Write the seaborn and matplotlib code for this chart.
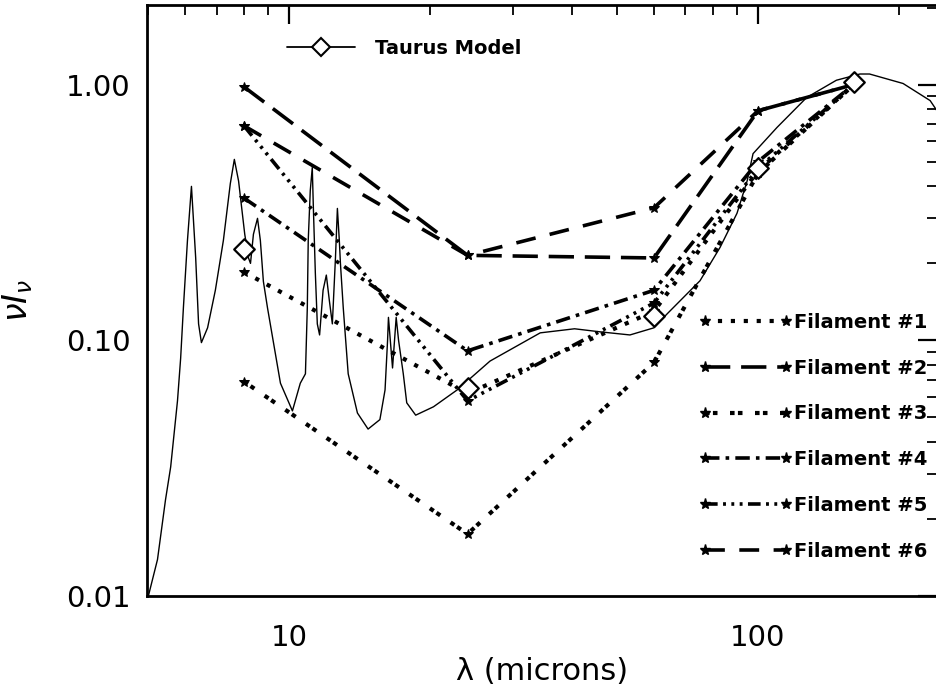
import numpy as np
import pandas as pd
import matplotlib
matplotlib.use("Agg")
import matplotlib.pyplot as plt
from matplotlib.lines import Line2D
from matplotlib.ticker import FixedLocator, FixedFormatter, LogLocator, NullFormatter
import seaborn as sns

# ---------------- data ----------------
wavelengths = [8, 24, 60, 100, 160]

filament_1 = [0.185, 0.062, 0.13, 0.46, 1.0]
filament_2 = [0.98, 0.215, 0.21, 0.79, 1.0]
filament_3 = [0.069, 0.0175, 0.082, 0.45, 1.0]
filament_4 = [0.36, 0.091, 0.157, 0.50, 1.0]
filament_5 = [0.69, 0.058, 0.14, 0.47, 1.0]
filament_6 = [0.69, 0.215, 0.33, 0.79, 1.0]

model_points = [0.228, 0.065, 0.125, 0.47, 1.02]

model_lambda = [5.0, 5.23, 5.44, 5.58, 5.77, 5.86, 5.94, 6.06, 6.18, 6.31, 6.40, 6.49,
                6.69, 6.95, 7.23, 7.48, 7.63, 7.79, 8.03, 8.18, 8.26, 8.38, 8.55,
                8.67, 8.80, 8.98, 9.57, 10.15, 10.55, 10.82, 10.92, 10.97, 11.08,
                11.19, 11.25, 11.36, 11.47, 11.6, 11.8, 11.99, 12.17, 12.35, 12.54,
                12.66, 12.78, 12.85, 13.03, 13.35, 13.97, 14.72, 15.6, 16.0, 16.2,
                16.27, 16.6, 16.9, 17.1, 17.5, 17.8, 18.6, 20.3, 22.8, 26.8, 34.3,
                40.6, 46.0, 53.3, 60.0, 64.0, 75.2, 83.0, 90.2, 94.8, 97.6, 109.8,
                127.0, 147.0, 165.0, 173.0, 204.0, 233.0, 241.0]
model_flux = [0.0100, 0.0139, 0.0238, 0.032, 0.058, 0.085, 0.134, 0.246, 0.40, 0.21,
              0.116, 0.098, 0.112, 0.157, 0.246, 0.41, 0.51, 0.42, 0.26, 0.21, 0.20,
              0.26, 0.30, 0.246, 0.17, 0.134, 0.068, 0.053, 0.068, 0.074, 0.134,
              0.246, 0.385, 0.474, 0.33, 0.183, 0.116, 0.105, 0.157, 0.18, 0.143,
              0.116, 0.21, 0.328, 0.246, 0.20, 0.134, 0.074, 0.052, 0.045, 0.049,
              0.064, 0.10, 0.123, 0.078, 0.123, 0.10, 0.074, 0.057, 0.051, 0.055,
              0.064, 0.083, 0.107, 0.111, 0.108, 0.105, 0.112, 0.127, 0.171, 0.231,
              0.314, 0.42, 0.537, 0.68, 0.89, 1.04, 1.10, 1.10, 1.01, 0.866, 0.79]

series_names = ["Filament #1", "Filament #2", "Filament #3",
                "Filament #4", "Filament #5", "Filament #6"]
series_values = [filament_1, filament_2, filament_3, filament_4, filament_5, filament_6]

# ---------------- style ----------------
sns.set_style("white")
plt.rcParams["font.family"] = ["DejaVu Sans"]
plt.rcParams["mathtext.fontset"] = "dejavusans"
plt.rcParams["text.color"] = "black"
plt.rcParams["axes.labelcolor"] = "black"
plt.rcParams["xtick.color"] = "black"
plt.rcParams["ytick.color"] = "black"

fig = plt.figure(figsize=(9.37, 6.94), dpi=100)
ax = fig.add_axes([0.157, 0.141, 0.843, 0.852])

line_styles = [
    (0, (1.0, 2.1)),                                  # 1 dotted
    (0, (7.0, 3.0)),                                  # 2 long dash
    (0, (1.1, 0.8, 1.1, 3.0)),                        # 3 paired dots
    (0, (4.0, 1.7, 1.0, 1.7)),                        # 4 dash dot
    (0, (3.5, 1.5, 0.8, 1.5, 0.8, 1.5, 0.8, 1.5)),    # 5 dash dot dot dot
    (0, (5.5, 4.0)),                                  # 6 dash
]
line_widths = [3.0, 2.6, 3.0, 2.6, 2.6, 2.6]

handles = []
for name, vals, ls, lw in zip(series_names, series_values, line_styles, line_widths):
    df = pd.DataFrame({"lam": wavelengths, "flux": vals})
    sns.lineplot(data=df, x="lam", y="flux", ax=ax, color="black",
                 linewidth=lw, linestyle=ls, marker="*", markersize=7,
                 markeredgecolor="black", markerfacecolor="black", legend=False)
    handles.append(Line2D([], [], color="black", linewidth=lw, linestyle=ls,
                          marker="*", markersize=8, label=name))

dfm = pd.DataFrame({"lam": model_lambda, "flux": model_flux})
sns.lineplot(data=dfm, x="lam", y="flux", ax=ax, color="black", linewidth=1.0,
             legend=False, sort=False)
dfp = pd.DataFrame({"lam": wavelengths, "flux": model_points})
sns.scatterplot(data=dfp, x="lam", y="flux", ax=ax, marker="D", s=110,
                facecolor="white", edgecolor="black", linewidth=1.6, zorder=5,
                legend=False)

ax.set_xscale("log")
ax.set_yscale("log")
ax.set_xlim(4.97, 241)
ax.set_ylim(0.01, 2.05)

ax.xaxis.set_major_locator(FixedLocator([10, 100]))
ax.xaxis.set_major_formatter(FixedFormatter(["10", "100"]))
ax.xaxis.set_minor_locator(LogLocator(base=10, subs=np.arange(2, 10)))
ax.xaxis.set_minor_formatter(NullFormatter())
ax.yaxis.set_major_locator(FixedLocator([0.01, 0.1, 1.0]))
ax.yaxis.set_major_formatter(FixedFormatter(["0.01", "0.10", "1.00"]))
ax.yaxis.set_minor_locator(LogLocator(base=10, subs=np.arange(2, 10)))
ax.yaxis.set_minor_formatter(NullFormatter())

ax.tick_params(which="both", direction="in", top=True, right=True, color="black",
               labelcolor="black")
ax.tick_params(which="major", length=14, width=1.6, labelsize=21)
ax.tick_params(axis="x", which="major", pad=20)
ax.tick_params(axis="y", which="major", pad=12)
ax.tick_params(which="minor", length=7, width=1.3)
for sp in ax.spines.values():
    sp.set_linewidth(2.0)
    sp.set_color("black")

ax.set_xlabel("λ (microns)", fontsize=22, labelpad=4)
ax.set_ylabel(r"$\nu I_\nu$", fontsize=24, labelpad=22)

model_handle = Line2D([], [], color="black", linewidth=1.3, marker="D",
                      markersize=9, markerfacecolor="white", markeredgewidth=1.5,
                      label="Taurus Model")
leg1 = ax.legend(handles=[model_handle], loc="upper left",
                 bbox_to_anchor=(0.155, 0.972), frameon=False, numpoints=1,
                 handlelength=3.5, handletextpad=1.0,
                 prop={"size": 14, "weight": "bold"})
ax.add_artist(leg1)
ax.legend(handles=handles, loc="lower right", bbox_to_anchor=(1.01, 0.03),
          frameon=False, numpoints=2, handlelength=4.8, handletextpad=0.1,
          labelspacing=1.38, prop={"size": 14, "weight": "bold"})

fig.savefig("out.png", dpi=100)
